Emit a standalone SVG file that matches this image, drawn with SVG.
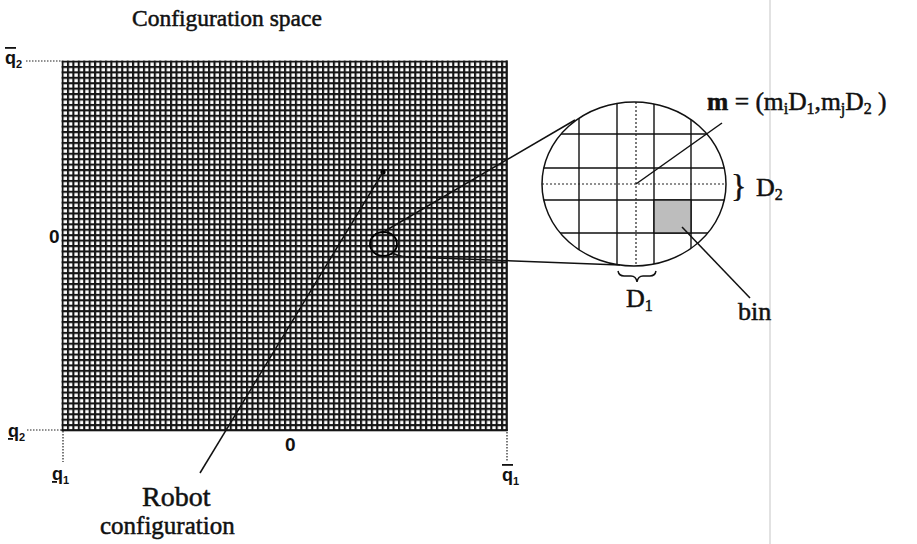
<svg xmlns="http://www.w3.org/2000/svg" width="917" height="544" viewBox="0 0 917 544">
<style>
.lbl{font-family:"Liberation Serif","Times New Roman",serif;fill:#111;stroke:#111;stroke-width:0.5}
.ax{font-family:"Liberation Sans",Arial,sans-serif;font-weight:bold;fill:#111}
.ln{stroke:#111;stroke-width:1.5;fill:none}
.dot{stroke:#222;stroke-width:1.2;stroke-dasharray:1.5 1.5;fill:none}
.ig{stroke:#111;stroke-width:1.4}
.igd{stroke:#222;stroke-width:1.2;stroke-dasharray:2 2}
</style>
<defs>
<pattern id="grid" patternUnits="userSpaceOnUse" x="61.5" y="60.5" width="5.427" height="5.427">
<rect x="0" y="0" width="2.1" height="5.427" fill="#151515"/>
<rect x="0" y="0" width="5.427" height="2.1" fill="#151515"/>
</pattern>
<clipPath id="zc"><ellipse cx="634" cy="184" rx="92" ry="82"/></clipPath>
</defs>
<rect width="917" height="544" fill="#fff"/>
<line x1="770" y1="0" x2="770" y2="544" stroke="#e2e2e2" stroke-width="2"/>

<g id="title"><text class="lbl" x="132" y="26" font-size="23.5">Configuration space</text></g>

<g id="configuration-space">
<rect x="61.5" y="60.5" width="446" height="370.5" fill="url(#grid)"/>
<rect x="505.6" y="60.5" width="2.1" height="370.5" fill="#151515"/>
<rect x="61.5" y="429.2" width="446" height="2.1" fill="#151515"/>
<circle cx="383" cy="172" r="2.6" fill="#000"/>
<ellipse cx="383.5" cy="244" rx="13.5" ry="12" fill="none" stroke="#000" stroke-width="1.8"/>
</g>

<g id="axes">
<path class="dot" d="M26 61H62M27 430H62M63 431V462M507 432V462"/>
<text class="ax" x="5" y="64" font-size="18"><tspan text-decoration="overline">q</tspan><tspan font-size="11" dy="4">2</tspan></text>
<text class="ax" x="8" y="437" font-size="18"><tspan text-decoration="underline">q</tspan><tspan font-size="11" dy="4">2</tspan></text>
<text class="ax" x="52" y="480" font-size="18"><tspan text-decoration="underline">q</tspan><tspan font-size="11" dy="4">1</tspan></text>
<text class="ax" x="502" y="481" font-size="18"><tspan text-decoration="overline">q</tspan><tspan font-size="11" dy="4">1</tspan></text>
<text class="ax" x="49" y="243" font-size="19">0</text>
<text class="ax" x="285" y="451" font-size="19">0</text>
</g>

<g id="zoom-view">
<g clip-path="url(#zc)">
<path class="ig" d="M579 90V280M617 90V280M654 90V280M691 90V280M530 134H740M530 168H740M530 200H740M530 233H740"/>
<rect x="654" y="200" width="37" height="33" fill="#bdbdbd" stroke="#111" stroke-width="1.4"/>
<path class="igd" d="M636 90V280M530 184H740"/>
</g>
<ellipse cx="634" cy="184" rx="92" ry="82" fill="none" stroke="#111" stroke-width="1.5"/>
<path class="ln" d="M618 271Q619 276 624 276H631Q636 276 637 282Q638 276 643 276H650Q655 276 656 271"/>
<text class="lbl" x="731" y="197" font-size="32">}</text>
<text class="lbl" x="756" y="196" font-size="26">D<tspan font-size="16" dy="4">2</tspan></text>
<text class="lbl" x="626" y="307" font-size="26">D<tspan font-size="16" dy="4">1</tspan></text>
<text class="lbl" x="707" y="110" font-size="25.5"><tspan font-weight="bold">m</tspan> = (m<tspan font-size="16" dy="4">i</tspan><tspan dy="-4">D</tspan><tspan font-size="16" dy="4">1</tspan><tspan dy="-4">,m</tspan><tspan font-size="16" dy="4">j</tspan><tspan dy="-4">D</tspan><tspan font-size="16" dy="4">2</tspan><tspan dy="-4"> )</tspan></text>
<text class="lbl" x="738" y="320" font-size="26">bin</text>
</g>

<g id="robot-label">
<text class="lbl" x="142" y="506" font-size="28">Robot</text>
<text class="lbl" x="100" y="534" font-size="25">configuration</text>
</g>

<g id="connectors">
<path class="ln" d="M383 172L200 473"/>
<path class="ln" d="M385 231L575 120"/>
<path class="ln" d="M392 253Q400 257 410 257L620 265"/>
<path class="ln" d="M636 184L722 123"/>
<path class="ln" d="M682 227L750 298"/>
</g>
</svg>
